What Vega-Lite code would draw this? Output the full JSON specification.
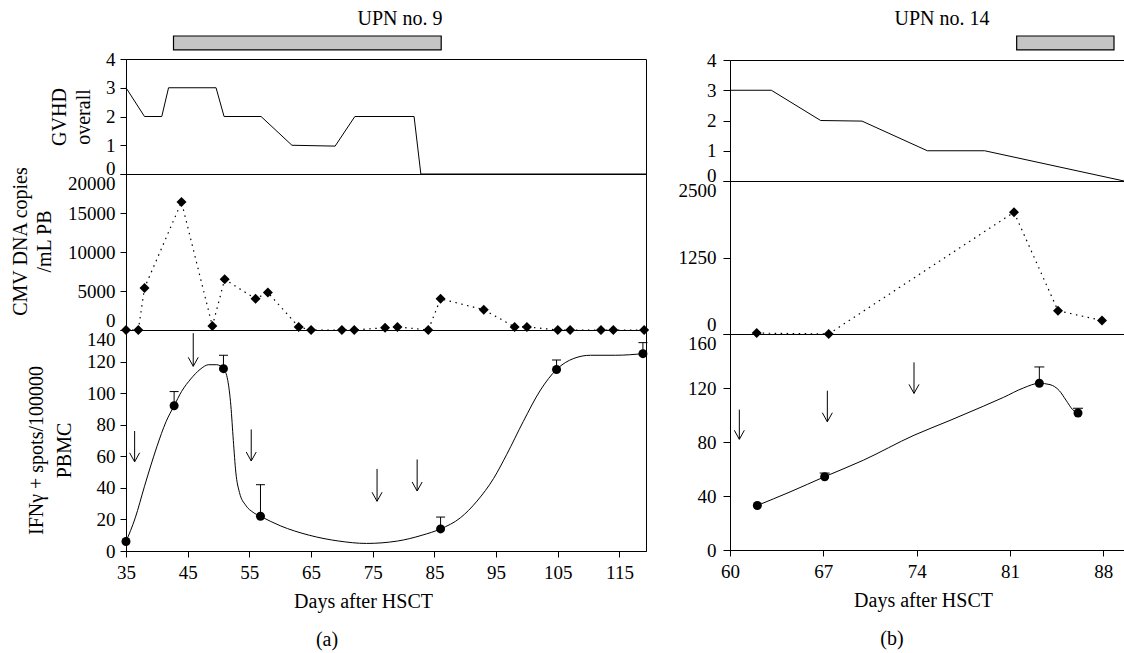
{
  "$schema": "https://vega.github.io/schema/vega-lite/v6.json",
  "background": "white",
  "padding": {"left": 10, "top": 9, "right": 0, "bottom": 0},
  "config": {
    "font": "Liberation Serif",
    "view": {"stroke": "black", "strokeWidth": 1},
    "axis": {"labelFont": "Liberation Serif", "titleFont": "Liberation Serif", "labelFontSize": 19, "titleFontSize": 20, "titleFontWeight": "normal", "labelColor": "black", "titleColor": "black", "domainColor": "black", "tickColor": "black", "grid": false, "tickSize": 6, "labelPadding": 5, "labelOverlap": false, "labelFlush": false, "domainWidth": 1, "tickWidth": 1, "titleLineHeight": 24},
    "axisX": {"labelPadding": 6},
    "title": {"font": "Liberation Serif", "fontSize": 20, "fontWeight": "normal", "color": "black"}
  },
  "datasets": {
    "barA": [{"start": 42.7, "end": 86.1}],
    "gvhdA": [{"day": 35, "score": 3}, {"day": 38, "score": 2}, {"day": 40.8, "score": 2}, {"day": 41.9, "score": 3}, {"day": 49.6, "score": 3}, {"day": 50.9, "score": 2}, {"day": 56.9, "score": 2}, {"day": 61.9, "score": 1}, {"day": 68.9, "score": 0.97}, {"day": 72.1, "score": 2}, {"day": 81.7, "score": 2}, {"day": 82.8, "score": 0}, {"day": 119.3, "score": 0}],
    "cmvA": [{"day": 35, "copies": 0}, {"day": 37, "copies": 0}, {"day": 38, "copies": 5400}, {"day": 44, "copies": 16400}, {"day": 49, "copies": 500}, {"day": 51, "copies": 6500}, {"day": 56, "copies": 4000}, {"day": 58, "copies": 4800}, {"day": 63, "copies": 400}, {"day": 65, "copies": 0}, {"day": 70, "copies": 0}, {"day": 72, "copies": 0}, {"day": 77, "copies": 300}, {"day": 79, "copies": 400}, {"day": 84, "copies": 0}, {"day": 86, "copies": 4000}, {"day": 93, "copies": 2600}, {"day": 98, "copies": 400}, {"day": 100, "copies": 400}, {"day": 105, "copies": 0}, {"day": 107, "copies": 0}, {"day": 112, "copies": 0}, {"day": 114, "copies": 0}, {"day": 119, "copies": 0}],
    "ifnA": [{"day": 35, "spots": 6, "upper": null}, {"day": 42.8, "spots": 92, "upper": 101}, {"day": 50.8, "spots": 115.5, "upper": 124}, {"day": 56.8, "spots": 22, "upper": 42}, {"day": 86, "spots": 14, "upper": 21.5}, {"day": 104.8, "spots": 115, "upper": 121}, {"day": 118.8, "spots": 125, "upper": 132}],
    "ifnCurveA": [{"day": 35, "spots": 6}, {"day": 36.5, "spots": 21}, {"day": 38, "spots": 41}, {"day": 40, "spots": 66}, {"day": 41.5, "spots": 82}, {"day": 42.8, "spots": 92}, {"day": 44, "spots": 101}, {"day": 45.5, "spots": 109}, {"day": 47, "spots": 115}, {"day": 48.4, "spots": 118}, {"day": 49.7, "spots": 118}, {"day": 50.8, "spots": 115.5}, {"day": 51.5, "spots": 108}, {"day": 52, "spots": 92}, {"day": 52.4, "spots": 70}, {"day": 52.8, "spots": 50}, {"day": 53.4, "spots": 37}, {"day": 54.4, "spots": 29}, {"day": 55.6, "spots": 24.5}, {"day": 56.8, "spots": 22}, {"day": 60, "spots": 16}, {"day": 64.7, "spots": 10}, {"day": 69.5, "spots": 6.3}, {"day": 74, "spots": 4.8}, {"day": 79, "spots": 6.3}, {"day": 83, "spots": 10}, {"day": 86, "spots": 14}, {"day": 89.2, "spots": 21}, {"day": 91.9, "spots": 31.6}, {"day": 94.6, "spots": 46}, {"day": 96.7, "spots": 61}, {"day": 99.4, "spots": 82}, {"day": 102.2, "spots": 102}, {"day": 104.8, "spots": 115}, {"day": 107.6, "spots": 122}, {"day": 110.3, "spots": 124}, {"day": 114.4, "spots": 124}, {"day": 118.8, "spots": 125}],
    "arrowsA": [{"day": 36.4, "top": 76, "tip": 56.5}, {"day": 45.9, "top": 138, "tip": 117}, {"day": 55.3, "top": 77, "tip": 57}, {"day": 75.7, "top": 52, "tip": 31.5}, {"day": 82.2, "top": 58, "tip": 38}],
    "barB": [{"start": 81.5, "end": 88.8}],
    "gvhdB": [{"day": 60, "score": 3}, {"day": 63.1, "score": 3}, {"day": 66.8, "score": 2}, {"day": 69.9, "score": 1.98}, {"day": 74.8, "score": 1}, {"day": 79.1, "score": 1}, {"day": 89.55, "score": 0}],
    "cmvB": [{"day": 62, "copies": 15}, {"day": 67.4, "copies": 0}, {"day": 81.3, "copies": 1990}, {"day": 84.6, "copies": 380}, {"day": 87.9, "copies": 220}],
    "ifnB": [{"day": 62.05, "spots": 33, "upper": null}, {"day": 67.1, "spots": 54.3, "upper": 57}, {"day": 83.2, "spots": 123.5, "upper": 135.6}, {"day": 86.1, "spots": 101.5, "upper": 105}],
    "ifnCurveB": [{"day": 62.05, "spots": 33}, {"day": 64.5, "spots": 43}, {"day": 67.1, "spots": 54.3}, {"day": 70, "spots": 66.5}, {"day": 73.8, "spots": 85}, {"day": 76.5, "spots": 96}, {"day": 79, "spots": 106.5}, {"day": 80.5, "spots": 113}, {"day": 82, "spots": 120}, {"day": 83.2, "spots": 123.5}, {"day": 84, "spots": 122.5}, {"day": 84.7, "spots": 118}, {"day": 85.2, "spots": 111}, {"day": 85.7, "spots": 104}, {"day": 86.1, "spots": 101.5}],
    "arrowsB": [{"day": 60.7, "top": 104, "tip": 82}, {"day": 67.3, "top": 118, "tip": 95}, {"day": 73.8, "top": 139, "tip": 116}]
  },
  "hconcat": [
    {
      "vconcat": [
        {
          "width": 520, "height": 23,
          "view": {"stroke": null},
          "title": {"text": "UPN no. 9", "anchor": "middle", "frame": "group", "dx": 14, "offset": 6},
          "data": {"name": "barA"},
          "mark": {"type": "rect", "fill": "#c4c4c4", "stroke": "black", "strokeWidth": 1.2},
          "encoding": {
            "x": {"field": "start", "type": "quantitative", "scale": {"domain": [35, 119.3], "nice": false, "zero": false}, "axis": null},
            "x2": {"field": "end"},
            "y": {"datum": 1, "type": "quantitative", "scale": {"domain": [0, 1], "nice": false}, "axis": null},
            "y2": {"datum": 0.4}
          }
        },
        {
          "width": 520, "height": 115,
          "data": {"name": "gvhdA"},
          "mark": {"type": "line", "color": "black", "strokeWidth": 1},
          "encoding": {
            "x": {"field": "day", "type": "quantitative", "scale": {"domain": [35, 119.3], "nice": false, "zero": false}, "axis": null},
            "y": {"field": "score", "type": "quantitative", "scale": {"domain": [0, 4], "nice": false}, "title": ["GVHD", "overall"],
              "axis": {"values": [0, 1, 2, 3, 4], "titlePadding": 12, "labelBaseline": {"condition": {"test": "datum.value == 0", "value": "alphabetic"}, "value": "middle"}}}
          }
        },
        {
          "width": 520, "height": 156,
          "data": {"name": "cmvA"},
          "encoding": {
            "x": {"field": "day", "type": "quantitative", "scale": {"domain": [35, 119.3], "nice": false, "zero": false}, "axis": null},
            "y": {"field": "copies", "type": "quantitative", "scale": {"domain": [0, 20000], "nice": false}, "title": ["CMV DNA copies", "/mL PB"],
              "axis": {"values": [0, 5000, 10000, 15000, 20000], "format": "d", "titlePadding": 13, "titleY": 67,
                "labelBaseline": {"condition": [{"test": "datum.value == 20000", "value": "top"}, {"test": "datum.value == 0", "value": "bottom"}], "value": "middle"}}}
          },
          "layer": [
            {"mark": {"type": "line", "color": "black", "strokeWidth": 1.2, "strokeDash": [1.5, 4.5]}},
            {"mark": {"type": "point", "shape": "diamond", "filled": true, "size": 100, "color": "black", "opacity": 1}}
          ]
        },
        {
          "width": 520, "height": 221,
          "title": {"text": "(a)", "orient": "bottom", "anchor": "middle", "frame": "group", "dx": -59, "offset": 19},
          "encoding": {
            "x": {"field": "day", "type": "quantitative", "scale": {"domain": [35, 119.3], "nice": false, "zero": false}, "title": "Days after HSCT",
              "axis": {"values": [35, 45, 55, 65, 75, 85, 95, 105, 115], "titleX": 237, "titlePadding": 9}}
          },
          "layer": [
            {
              "data": {"name": "ifnCurveA"},
              "mark": {"type": "line", "interpolate": "monotone", "color": "black", "strokeWidth": 1},
              "encoding": {"y": {"field": "spots", "type": "quantitative", "scale": {"domain": [0, 140], "nice": false}, "title": ["IFNγ + spots/100000", "PBMC"],
                "axis": {"values": [0, 20, 40, 60, 80, 100, 120, 140], "titlePadding": 12, "titleY": 120, "titleLineHeight": 28, "labelBaseline": {"condition": {"test": "datum.value == 140", "value": "top"}, "value": "middle"}}}}
            },
            {
              "data": {"name": "ifnA"},
              "transform": [{"filter": "datum.upper != null"}],
              "mark": {"type": "rule", "color": "black", "strokeWidth": 1},
              "encoding": {"y": {"field": "spots", "type": "quantitative", "title": ["IFNγ + spots/100000", "PBMC"],
                "axis": {"values": [0, 20, 40, 60, 80, 100, 120, 140], "titlePadding": 12, "titleY": 120, "titleLineHeight": 28, "labelBaseline": {"condition": {"test": "datum.value == 140", "value": "top"}, "value": "middle"}}}, "y2": {"field": "upper"}}
            },
            {
              "data": {"name": "ifnA"},
              "transform": [{"filter": "datum.upper != null"}],
              "mark": {"type": "tick", "orient": "horizontal", "size": 9, "thickness": 1, "color": "black", "opacity": 1},
              "encoding": {"y": {"field": "upper", "type": "quantitative", "title": ["IFNγ + spots/100000", "PBMC"],
                "axis": {"values": [0, 20, 40, 60, 80, 100, 120, 140], "titlePadding": 12, "titleY": 120, "titleLineHeight": 28, "labelBaseline": {"condition": {"test": "datum.value == 140", "value": "top"}, "value": "middle"}}}}
            },
            {
              "data": {"name": "ifnA"},
              "mark": {"type": "point", "shape": "circle", "filled": true, "size": 81, "color": "black", "opacity": 1},
              "encoding": {"y": {"field": "spots", "type": "quantitative", "title": ["IFNγ + spots/100000", "PBMC"],
                "axis": {"values": [0, 20, 40, 60, 80, 100, 120, 140], "titlePadding": 12, "titleY": 120, "titleLineHeight": 28, "labelBaseline": {"condition": {"test": "datum.value == 140", "value": "top"}, "value": "middle"}}}}
            },
            {
              "data": {"name": "arrowsA"},
              "mark": {"type": "rule", "color": "black", "strokeWidth": 1},
              "encoding": {"y": {"field": "top", "type": "quantitative", "title": ["IFNγ + spots/100000", "PBMC"],
                "axis": {"values": [0, 20, 40, 60, 80, 100, 120, 140], "titlePadding": 12, "titleY": 120, "titleLineHeight": 28, "labelBaseline": {"condition": {"test": "datum.value == 140", "value": "top"}, "value": "middle"}}}, "y2": {"field": "tip"}}
            },
            {
              "data": {"name": "arrowsA"},
              "mark": {"type": "point", "shape": "M-1,-1.8L0,0L1,-1.8", "filled": false, "size": 100, "color": "black", "strokeWidth": 1, "opacity": 1},
              "encoding": {"y": {"field": "tip", "type": "quantitative", "title": ["IFNγ + spots/100000", "PBMC"],
                "axis": {"values": [0, 20, 40, 60, 80, 100, 120, 140], "titlePadding": 12, "titleY": 120, "titleLineHeight": 28, "labelBaseline": {"condition": {"test": "datum.value == 140", "value": "top"}, "value": "middle"}}}}
            }
          ]
        }
      ],
      "spacing": 0,
      "bounds": "flush",
      "resolve": {"scale": {"x": "independent", "y": "independent"}}
    },
    {
      "vconcat": [
        {
          "width": 394, "height": 24,
          "view": {"stroke": null},
          "title": {"text": "UPN no. 14", "anchor": "middle", "frame": "group", "dx": 15, "offset": 6},
          "data": {"name": "barB"},
          "mark": {"type": "rect", "fill": "#c4c4c4", "stroke": "black", "strokeWidth": 1.2},
          "encoding": {
            "x": {"field": "start", "type": "quantitative", "scale": {"domain": [60, 89.55], "nice": false, "zero": false}, "axis": null},
            "x2": {"field": "end"},
            "y": {"datum": 1, "type": "quantitative", "scale": {"domain": [0, 1], "nice": false}, "axis": null},
            "y2": {"datum": 0.42}
          }
        },
        {
          "width": 394, "height": 121,
          "data": {"name": "gvhdB"},
          "mark": {"type": "line", "color": "black", "strokeWidth": 1},
          "encoding": {
            "x": {"field": "day", "type": "quantitative", "scale": {"domain": [60, 89.55], "nice": false, "zero": false}, "axis": null},
            "y": {"field": "score", "type": "quantitative", "scale": {"domain": [0, 4], "nice": false}, "title": null,
              "axis": {"values": [0, 1, 2, 3, 4], "tickSize": 7, "labelPadding": 7, "labelBaseline": {"condition": {"test": "datum.value == 0", "value": "alphabetic"}, "value": "middle"}}}
          }
        },
        {
          "width": 394, "height": 153,
          "data": {"name": "cmvB"},
          "encoding": {
            "x": {"field": "day", "type": "quantitative", "scale": {"domain": [60, 89.55], "nice": false, "zero": false}, "axis": null},
            "y": {"field": "copies", "type": "quantitative", "scale": {"domain": [0, 2500], "nice": false}, "title": null,
              "axis": {"values": [0, 1250, 2500], "format": "d", "tickSize": 7, "labelPadding": 7,
                "labelBaseline": {"condition": [{"test": "datum.value == 2500", "value": "top"}, {"test": "datum.value == 0", "value": "bottom"}], "value": "middle"}}}
          },
          "layer": [
            {"mark": {"type": "line", "color": "black", "strokeWidth": 1.2, "strokeDash": [1.5, 4.5]}},
            {"mark": {"type": "point", "shape": "diamond", "filled": true, "size": 100, "color": "black", "opacity": 1}}
          ]
        },
        {
          "width": 394, "height": 216,
          "title": {"text": "(b)", "orient": "bottom", "anchor": "middle", "frame": "group", "dx": -35, "offset": 19},
          "encoding": {
            "x": {"field": "day", "type": "quantitative", "scale": {"domain": [60, 89.55], "nice": false, "zero": false}, "title": "Days after HSCT",
              "axis": {"values": [60, 67, 74, 81, 88], "titleX": 193, "titlePadding": 9}}
          },
          "layer": [
            {
              "data": {"name": "ifnCurveB"},
              "mark": {"type": "line", "interpolate": "monotone", "color": "black", "strokeWidth": 1},
              "encoding": {"y": {"field": "spots", "type": "quantitative", "scale": {"domain": [0, 160], "nice": false}, "title": null,
                "axis": {"values": [0, 40, 80, 120, 160], "tickSize": 7, "labelPadding": 7, "labelBaseline": {"condition": {"test": "datum.value == 160", "value": "top"}, "value": "middle"}}}}
            },
            {
              "data": {"name": "ifnB"},
              "transform": [{"filter": "datum.upper != null"}],
              "mark": {"type": "rule", "color": "black", "strokeWidth": 1},
              "encoding": {"y": {"field": "spots", "type": "quantitative", "title": null,
                "axis": {"values": [0, 40, 80, 120, 160], "tickSize": 7, "labelPadding": 7, "labelBaseline": {"condition": {"test": "datum.value == 160", "value": "top"}, "value": "middle"}}}, "y2": {"field": "upper"}}
            },
            {
              "data": {"name": "ifnB"},
              "transform": [{"filter": "datum.upper != null"}],
              "mark": {"type": "tick", "orient": "horizontal", "size": 10, "thickness": 1, "color": "black", "opacity": 1},
              "encoding": {"y": {"field": "upper", "type": "quantitative", "title": null,
                "axis": {"values": [0, 40, 80, 120, 160], "tickSize": 7, "labelPadding": 7, "labelBaseline": {"condition": {"test": "datum.value == 160", "value": "top"}, "value": "middle"}}}}
            },
            {
              "data": {"name": "ifnB"},
              "mark": {"type": "point", "shape": "circle", "filled": true, "size": 81, "color": "black", "opacity": 1},
              "encoding": {"y": {"field": "spots", "type": "quantitative", "title": null,
                "axis": {"values": [0, 40, 80, 120, 160], "tickSize": 7, "labelPadding": 7, "labelBaseline": {"condition": {"test": "datum.value == 160", "value": "top"}, "value": "middle"}}}}
            },
            {
              "data": {"name": "arrowsB"},
              "mark": {"type": "rule", "color": "black", "strokeWidth": 1},
              "encoding": {"y": {"field": "top", "type": "quantitative", "title": null,
                "axis": {"values": [0, 40, 80, 120, 160], "tickSize": 7, "labelPadding": 7, "labelBaseline": {"condition": {"test": "datum.value == 160", "value": "top"}, "value": "middle"}}}, "y2": {"field": "tip"}}
            },
            {
              "data": {"name": "arrowsB"},
              "mark": {"type": "point", "shape": "M-1,-1.8L0,0L1,-1.8", "filled": false, "size": 100, "color": "black", "strokeWidth": 1, "opacity": 1},
              "encoding": {"y": {"field": "tip", "type": "quantitative", "title": null,
                "axis": {"values": [0, 40, 80, 120, 160], "tickSize": 7, "labelPadding": 7, "labelBaseline": {"condition": {"test": "datum.value == 160", "value": "top"}, "value": "middle"}}}}
            }
          ]
        }
      ],
      "spacing": 0,
      "bounds": "flush",
      "resolve": {"scale": {"x": "independent", "y": "independent"}}
    }
  ],
  "spacing": 27,
  "resolve": {"scale": {"x": "independent", "y": "independent"}}
}
